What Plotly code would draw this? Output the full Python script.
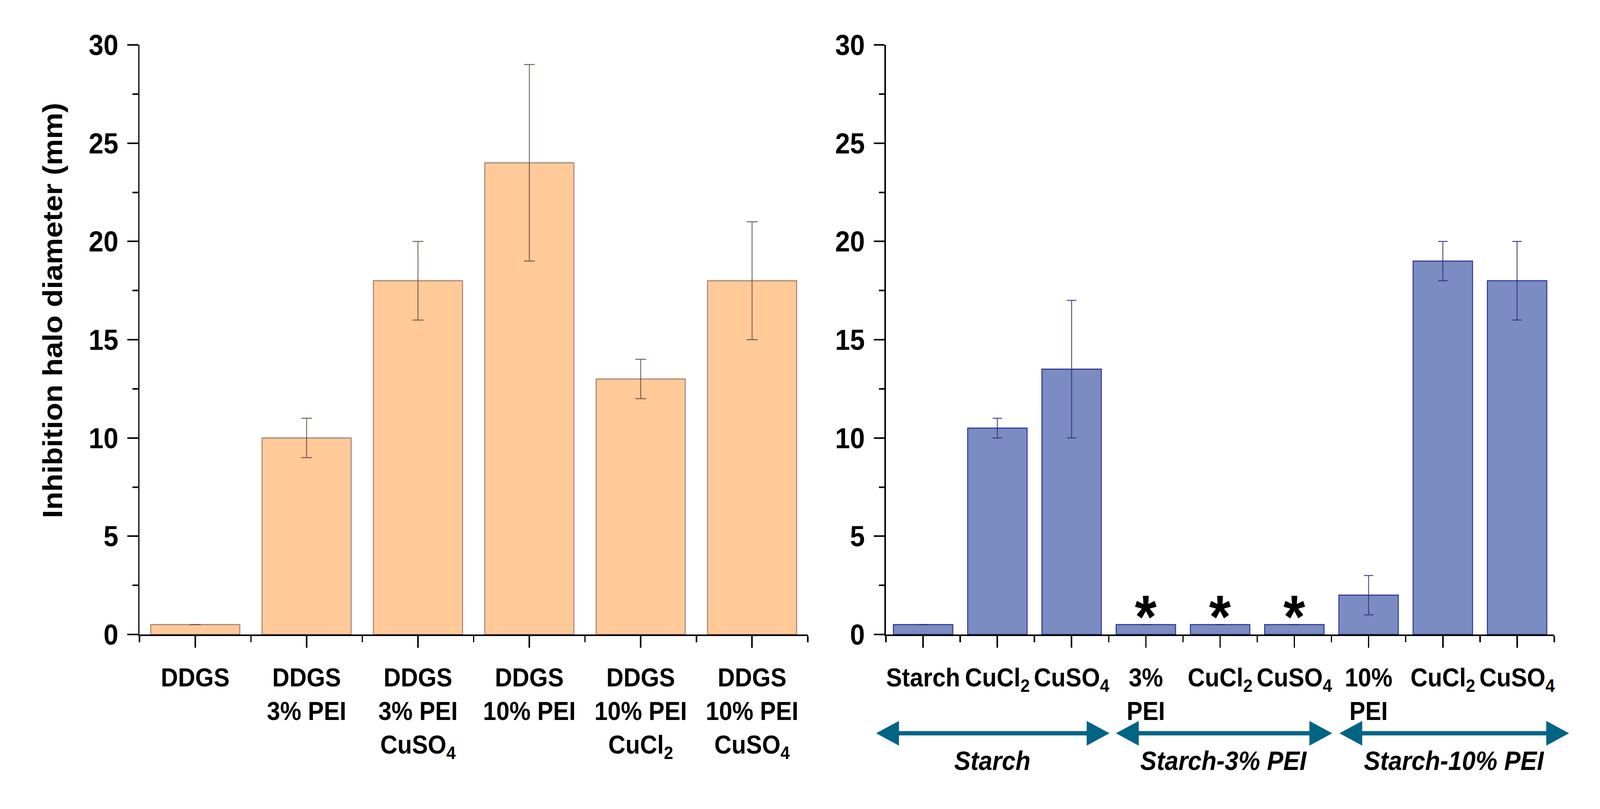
import plotly.graph_objects as go

# ---------------- data ----------------
left_categories = [
    "DDGS",
    "DDGS<br>3% PEI",
    "DDGS<br>3% PEI<br>CuSO<sub>4</sub>",
    "DDGS<br>10% PEI",
    "DDGS<br>10% PEI<br>CuCl<sub>2</sub>",
    "DDGS<br>10% PEI<br>CuSO<sub>4</sub>",
]
left_values = [0.5, 10, 18, 24, 13, 18]
left_errors = [None, 1, 2, 5, 1, 3]

right_categories = [
    "Starch",
    "CuCl<sub>2</sub>",
    "CuSO<sub>4</sub>",
    "3%<br>PEI",
    "CuCl<sub>2</sub>",
    "CuSO<sub>4</sub>",
    "10%<br>PEI",
    "CuCl<sub>2</sub>",
    "CuSO<sub>4</sub>",
]
right_values = [0.5, 10.5, 13.5, 0.5, 0.5, 0.5, 2, 19, 18]
right_errors = [None, 0.5, 3.5, None, None, None, 1, 1, 2]
right_marks = ["", "", "", "*", "*", "*", "", "", ""]

group_names = ["Starch", "Starch-3% PEI", "Starch-10% PEI"]
y_ticks = [0, 5, 10, 15, 20, 25, 30]
y_title = "Inhibition halo diameter (mm)"

# ---------------- style ----------------
FONT = "Liberation Sans, Arial, Helvetica, sans-serif"
W, H = 4437, 2072
LEFT_FILL, LEFT_EDGE, LEFT_ERR = "#FFCA98", "#A8877A", "rgba(95,70,65,0.85)"
RIGHT_FILL, RIGHT_EDGE, RIGHT_ERR = "#7A8CC2", "#3C3C9C", "rgba(45,40,110,0.85)"
ARROW_COLOR = "#006485"

# arrow spans in right-axis units (layout of the group brackets)
arrow_spans = [(-0.64, 2.51), (2.59, 5.51), (5.60, 8.70)]


def px_x(p):
    return p / W


def px_y(p):
    return (H - p) / H


fig = go.Figure()

fig.add_trace(go.Bar(
    x=list(range(len(left_values))), y=left_values,
    error_y=dict(type="data", array=left_errors, color=LEFT_ERR, thickness=2.5, width=15),
    marker=dict(color=LEFT_FILL, line=dict(color=LEFT_EDGE, width=3)),
    xaxis="x", yaxis="y", showlegend=False,
))
fig.add_trace(go.Bar(
    x=list(range(len(right_values))), y=right_values,
    error_y=dict(type="data", array=right_errors, color=RIGHT_ERR, thickness=2.5, width=13),
    marker=dict(color=RIGHT_FILL, line=dict(color=RIGHT_EDGE, width=3)),
    xaxis="x2", yaxis="y2", showlegend=False,
))

tickfont_y = dict(family=FONT, size=74, color="black", weight="bold")
tickfont_x = dict(family=FONT, size=66, color="black", weight="bold")
minor_y = [(a + b) / 2 for a, b in zip(y_ticks[:-1], y_ticks[1:])]


def yaxis(domain_anchor):
    return dict(
        range=[0, 30], tickvals=y_ticks, ticks="outside", ticklen=30, tickwidth=4,
        tickcolor="black", showline=True, linewidth=4, linecolor="black",
        showgrid=False, zeroline=False, tickfont=tickfont_y, automargin=False,
        minor=dict(tickvals=minor_y, ticks="outside", ticklen=16, tickwidth=4, tickcolor="black"),
        domain=[px_y(1625), px_y(115)], anchor=domain_anchor, ticklabelstandoff=10,
    )


def xaxis(cats, dom, anchor):
    n = len(cats)
    return dict(
        range=[-0.5, n - 0.5], tickvals=list(range(n)), ticktext=cats,
        ticks="outside", ticklen=30, tickwidth=4, tickcolor="black",
        showline=True, linewidth=4, linecolor="black", showgrid=False, zeroline=False,
        tickfont=tickfont_x, automargin=False, tickangle=0,
        minor=dict(tickvals=[i - 0.5 for i in range(n + 1)], ticks="outside",
                   ticklen=16, tickwidth=4, tickcolor="black"),
        domain=dom, anchor=anchor, ticklabelstandoff=20,
    )


annotations = []
# significance marks
for i, m in enumerate(right_marks):
    if m:
        annotations.append(dict(
            x=i, y=right_values[i], xref="x2", yref="y2", text=m, showarrow=False,
            xanchor="center", yanchor="bottom", yshift=-68,
            font=dict(family=FONT, size=155, color="black", weight="bold"),
        ))

# group arrows and labels
arrow_y = px_y(1878)
for name, (a, b) in zip(group_names, arrow_spans):
    annotations.append(dict(
        x=b, y=arrow_y, xref="x2", yref="paper", ax=a, ay=0, axref="x2", ayref="pixel",
        text="", showarrow=True, arrowhead=2, startarrowhead=2, arrowside="end+start",
        arrowwidth=11, arrowsize=1.15, startarrowsize=1.15, arrowcolor=ARROW_COLOR,
        standoff=0, startstandoff=0,
    ))
    annotations.append(dict(
        x=(a + b) / 2, y=px_y(1948), xref="x2", yref="paper", text=name, showarrow=False,
        xanchor="center", yanchor="middle",
        font=dict(family=FONT, size=68, color="black", weight="bold", style="italic"),
    ))

# y-axis title
annotations.append(dict(
    x=px_x(145), y=px_y(795), xref="paper", yref="paper", text=y_title, showarrow=False,
    textangle=-90, xanchor="center", yanchor="middle",
    font=dict(family=FONT, size=76, color="black", weight="bold"),
))

fig.update_layout(
    width=W, height=H,
    margin=dict(l=0, r=0, t=0, b=0),
    paper_bgcolor="white", plot_bgcolor="white",
    bargap=0.2,
    xaxis=xaxis(left_categories, [px_x(387), px_x(2240)], "y"),
    yaxis=yaxis("x"),
    xaxis2=xaxis(right_categories, [px_x(2457), px_x(4310)], "y2"),
    yaxis2=yaxis("x2"),
    annotations=annotations,
)

# fit the fixed-size figure exactly into the browser viewport
fit_script = """
var gd = document.getElementById('{plot_id}');
var W = %d, H = %d;
document.documentElement.style.margin = '0';
document.documentElement.style.overflow = 'hidden';
document.body.style.margin = '0';
document.body.style.overflow = 'hidden';
var vw = window.innerWidth, vh = window.innerHeight;
var sx = vw / W, sy = vh / H;
gd.style.transformOrigin = '0 0';
gd.style.transform = 'scale(' + sx + ',' + sy + ')';
var wrap = gd.parentElement;
wrap.style.width = vw + 'px';
wrap.style.height = vh + 'px';
wrap.style.overflow = 'hidden';
document.body.style.width = vw + 'px';
document.body.style.height = vh + 'px';
document.documentElement.style.height = vh + 'px';
""" % (W, H)

fig.write_html("out.html", post_script=fit_script, config={"displayModeBar": False})
